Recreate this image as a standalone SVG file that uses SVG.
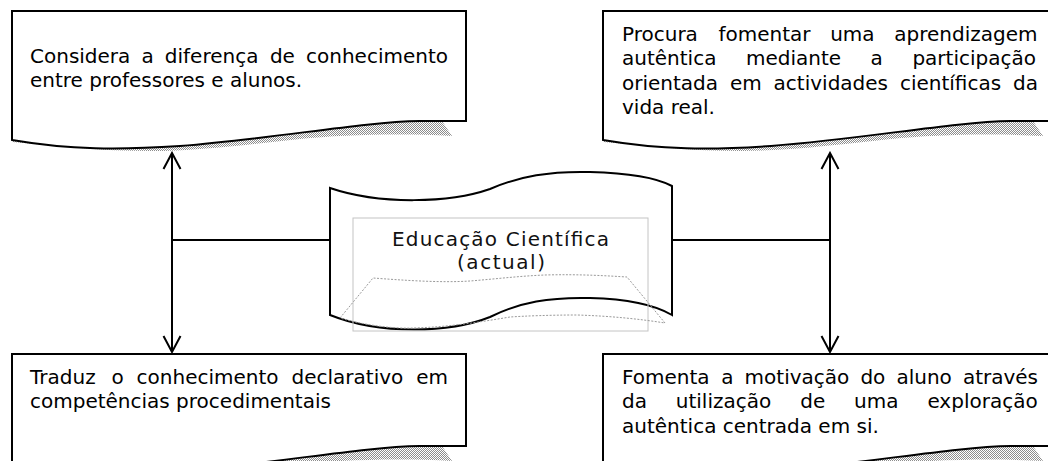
<svg xmlns="http://www.w3.org/2000/svg" width="1048" height="461" viewBox="0 0 1048 461">
<style>
.box{fill:#fff;stroke:#000;stroke-width:2;stroke-linejoin:miter}
.shadow{fill:url(#dither);stroke:none}
.t{font-family:"DejaVu Sans",Verdana,sans-serif;font-size:20px;fill:#000}
.ct{font-family:"DejaVu Sans",Verdana,sans-serif;font-size:20px;fill:#111;text-anchor:middle}
.conn{stroke:#000;stroke-width:2;fill:none}
</style>
<defs>
<pattern id="dither" patternUnits="userSpaceOnUse" width="2" height="2">
<rect x="0" y="0" width="1" height="1" fill="#8c8c8c"/>
<rect x="1" y="1" width="1" height="1" fill="#8c8c8c"/>
</pattern>
<marker id="arr" markerUnits="userSpaceOnUse" viewBox="0 0 20 20" refX="18" refY="10" markerWidth="20" markerHeight="20" orient="auto-start-reverse">
<path d="M2,1.5 L18,10 L2,18.5" fill="none" stroke="#000" stroke-width="2"/>
</marker>
<path id="shTop" d="M12,130 L440,118 L452,136 C400,133 340,135 300,139 C250,144 200,151 150,151 C100,151 60,146 12,142 Z"/>
</defs>
<rect width="1048" height="461" fill="#fff"/>

<g id="connectors">
<path class="conn" d="M172,240 H330"/>
<path class="conn" d="M672,240 H830"/>
<path class="conn" d="M172,153 V352" marker-start="url(#arr)" marker-end="url(#arr)"/>
<path class="conn" d="M830,153 V352" marker-start="url(#arr)" marker-end="url(#arr)"/>
</g>

<g id="node-top-left">
<use href="#shTop" class="shadow"/>
<path class="box" d="M12,11 L466,11 L466,121 L420,121 C360,122 280,138 180,146 C120,150 70,150 12,140 Z"/>
<text class="t"><tspan x="30" y="63">Considera</tspan><tspan x="141.4" y="63">a</tspan><tspan x="164.8" y="63">diferença</tspan><tspan x="269.9" y="63">de</tspan><tspan x="306" y="63">conhecimento</tspan></text>
<text class="t" x="30" y="87">entre professores e alunos.</text>
</g>

<g id="node-top-right">
<use href="#shTop" class="shadow" transform="translate(591,0)"/>
<path class="box" transform="translate(591,0)" d="M12,11 L466,11 L466,121 L420,121 C360,122 280,138 180,146 C120,150 70,150 12,140 Z"/>
<text class="t"><tspan x="622" y="41">Procura</tspan><tspan x="718.4" y="41">fomentar</tspan><tspan x="830.2" y="41">uma</tspan><tspan x="894.3" y="41">aprendizagem</tspan></text>
<text class="t"><tspan x="622" y="65">autêntica</tspan><tspan x="746" y="65">mediante</tspan><tspan x="870.6" y="65">a</tspan><tspan x="912.4" y="65">participação</tspan></text>
<text class="t"><tspan x="622" y="90">orientada</tspan><tspan x="729.9" y="90">em</tspan><tspan x="773.6" y="90">actividades</tspan><tspan x="899.9" y="90">científicas</tspan><tspan x="1013" y="90">da</tspan></text>
<text class="t" x="622" y="114">vida real.</text>
</g>

<g id="node-center">
<path class="box" d="M330,188 C380,205 450,203 490,189 C520,176 550,171 590,172 C630,173 655,177 672,186 L672,315 C655,305 630,299 590,298 C550,297 520,302 490,317 C450,333 380,335 330,315 Z"/>
<rect x="353" y="218" width="295" height="113" fill="none" stroke="#c4c4c4" stroke-width="1"/>
<path d="M340,318 L373,278 C400,280 440,283 470,281 C495,279 520,276 545,275 C580,274 610,276 627,277 L665,323 C640,319 610,316 577,315 C550,315 525,316 510,317 C480,322 450,327 413,328 C390,329 360,324 340,318 Z" fill="none" stroke="#9a9a9a" stroke-width="1" stroke-dasharray="2,1.5"/>
<text class="ct" x="500.5" y="246" textLength="217">Educação Científica</text>
<text class="ct" x="501" y="269" textLength="88">(actual)</text>
</g>

<g id="node-bottom-left">
<use href="#shTop" class="shadow" transform="translate(0,325)"/>
<path class="box" d="M12,354 L466,354 L466,446 L420,446 C360,447 280,463 180,471 C120,475 70,475 12,465 Z"/>
<text class="t"><tspan x="30" y="384">Traduz</tspan><tspan x="111.5" y="384">o</tspan><tspan x="136.6" y="384">conhecimento</tspan><tspan x="291.5" y="384">declarativo</tspan><tspan x="416.2" y="384">em</tspan></text>
<text class="t" x="30" y="408">competências procedimentais</text>
</g>

<g id="node-bottom-right">
<use href="#shTop" class="shadow" transform="translate(591,325)"/>
<path class="box" transform="translate(591,0)" d="M12,354 L466,354 L466,446 L420,446 C360,447 280,463 180,471 C120,475 70,475 12,465 Z"/>
<text class="t"><tspan x="622" y="384">Fomenta</tspan><tspan x="721.3" y="384">a</tspan><tspan x="744.6" y="384">motivação</tspan><tspan x="860.4" y="384">do</tspan><tspan x="896.4" y="384">aluno</tspan><tspan x="962.9" y="384">através</tspan></text>
<text class="t"><tspan x="622" y="408">da</tspan><tspan x="675.8" y="408">utilização</tspan><tspan x="800.2" y="408">de</tspan><tspan x="854.1" y="408">uma</tspan><tspan x="927.4" y="408">exploração</tspan></text>
<text class="t" x="622" y="433">autêntica centrada em si.</text>
</g>
</svg>
